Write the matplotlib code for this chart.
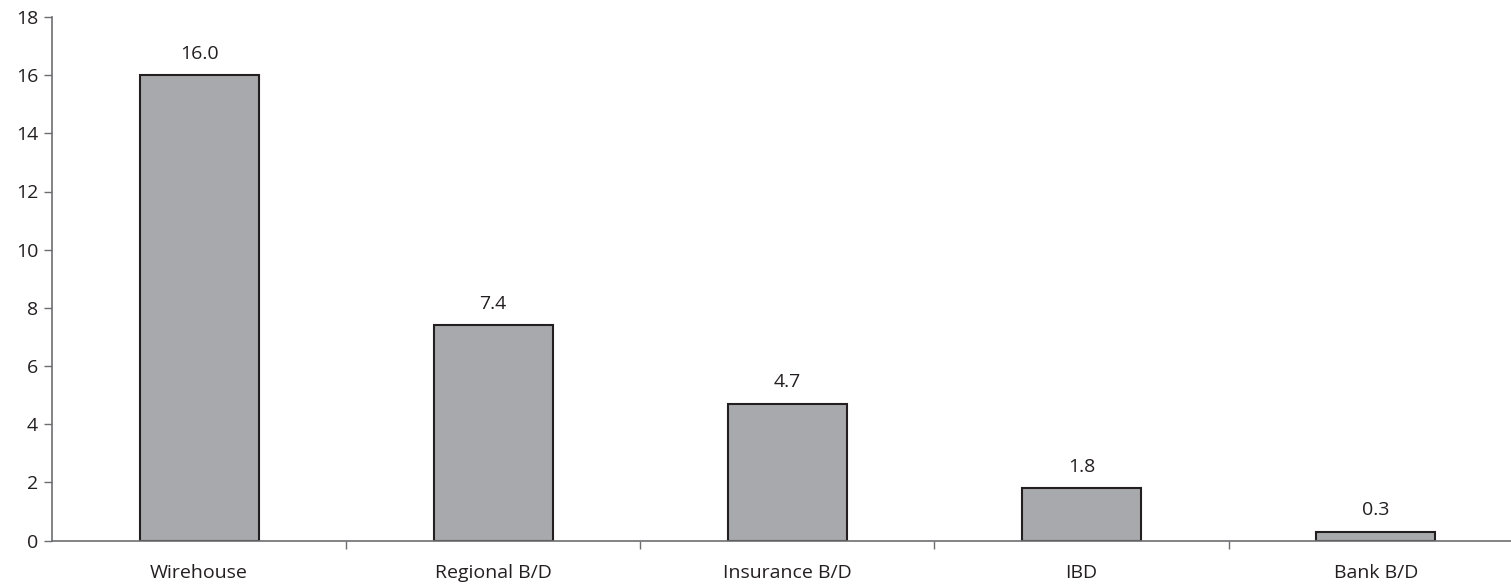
import matplotlib
matplotlib.use('Agg')
import matplotlib.pyplot as plt
import numpy as np

# Channel values
categories = ['Wirehouse', 'Regional B/D', 'Insurance B/D', 'IBD', 'Bank B/D']
values = [16.0, 7.4, 4.7, 1.8, 0.3]

plt.rcParams['font.family'] = ['Open Sans', 'DejaVu Sans']

W, H = 1511, 584
fig = plt.figure(figsize=(W / 100, H / 100), dpi=100)
ax = fig.add_axes([52 / W, (H - 540.5) / H, (W - 52) / W, (540.5 - 17) / H])

x = np.arange(len(categories))
ax.bar(x, values, width=0.405, color='#a7a9ac', edgecolor='#231f20', linewidth=1.5, zorder=3)

for xi, v in zip(x, values):
    ax.annotate(f'{v:.1f}', (xi, v), xytext=(0, 9), textcoords='offset points',
                ha='center', va='bottom', fontsize=14, color='#231f20')

ax.set_xlim(-0.5, 4.46)
ax.set_ylim(0, 18)
ax.set_yticks(np.arange(0, 19, 2))
ax.tick_params(axis='y', length=6, width=1, color='#6d6e71', labelsize=14,
               labelcolor='#231f20', pad=4)

# category labels centred, ticks on category boundaries
ax.set_xticks(x)
ax.set_xticklabels(categories)
ax.set_xticks(np.arange(0.5, 4.5, 1), minor=True)
ax.tick_params(axis='x', which='major', length=0, labelsize=14, labelcolor='#231f20', pad=17)
ax.tick_params(axis='x', which='minor', length=6, width=1, color='#6d6e71')

for side in ['top', 'right']:
    ax.spines[side].set_visible(False)
for side in ['left', 'bottom']:
    ax.spines[side].set_color('#6d6e71')
    ax.spines[side].set_linewidth(1.2)
ax.spines['bottom'].set_zorder(4)

fig.savefig('out.png', dpi=100)
